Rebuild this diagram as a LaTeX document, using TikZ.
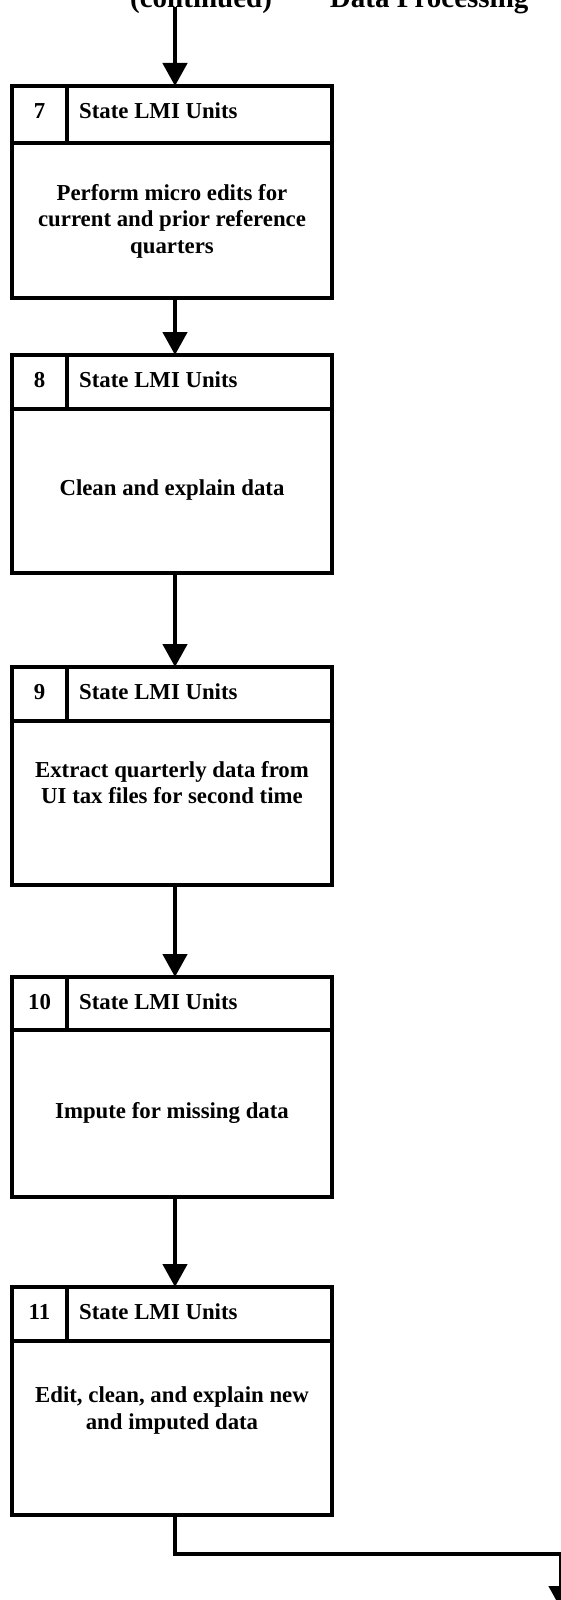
\documentclass[tikz,border=0pt]{standalone}
\usepackage{fontspec}
\setmainfont{Liberation Serif}
\usepackage{tikz}
\usetikzlibrary{arrows.meta,positioning}
\tikzstyle{stepbox} = [rectangle, draw, line width=3.8pt, minimum width=320pt,
    inner sep=0pt, outer sep=0pt]
\tikzstyle{line} = [draw, line width=4.5pt, -{Triangle[width=24pt,length=23pt]}]
\tikzstyle{divider} = [draw, line width=3.8pt]
\tikzstyle{task} = [align=center, anchor=base, inner sep=0pt]

\begin{document}
\begin{tikzpicture}[x=1pt, y=-1pt, node distance=57pt]
\tikzstyle{every node}=[font=\bfseries\fontsize{22.8}{26.5}\selectfont]
    \useasboundingbox (0,0) rectangle (561,1600);
    \clip (0,0) rectangle (561,1600);
    % title cut off at the top edge
    \node [anchor=base west, inner sep=0pt, font=\bfseries\fontsize{29}{34}\selectfont]
        (title) at (130,7.5) {(continued)\hspace{2em}Data Processing};
    % boxes
    \node [stepbox, minimum height=212pt] (s7) at (172,192) {};
    \node [stepbox, minimum height=218pt, below=57pt of s7] (s8) {};
    \node [stepbox, minimum height=218pt, below=94pt of s8] (s9) {};
    \node [stepbox, minimum height=220pt, below=92pt of s9] (s10) {};
    \node [stepbox, minimum height=228pt, below=90pt of s10] (s11) {};
    % header rows
    \foreach \s/\hd in {7/57,8/54,9/54,10/53,11/54} {
        \path [divider] ([yshift=-\hd pt]s\s.north west) -- ([yshift=-\hd pt]s\s.north east);
        \path [divider] ([xshift=55pt]s\s.north west) -- ([xshift=55pt,yshift=-\hd pt]s\s.north west);
        \node [anchor=base, inner sep=0pt] (num\s) at ([xshift=27.5pt,yshift=-32pt]s\s.north west) {\s};
        \node [anchor=base west, inner sep=0pt] (who\s) at ([xshift=67pt,yshift=-32pt]s\s.north west) {State LMI Units};
    }
    % tasks (base = last line)
    \node [task] (task7) at ([yshift=-167pt]s7.north) {Perform micro edits for\\current and prior reference\\quarters};
    \node [task] (task8) at ([yshift=-140pt]s8.north) {Clean and explain data};
    \node [task] (task9) at ([yshift=-136.5pt]s9.north) {Extract quarterly data from\\UI tax files for second time};
    \node [task] (task10) at ([yshift=-141pt]s10.north) {Impute for missing data};
    \node [task] (task11) at ([yshift=-142pt]s11.north) {Edit, clean, and explain new\\and imputed data};
    % connectors
    \coordinate (in) at (175,7);
    \coordinate (bend) at (561,1554);
    \coordinate (out) at (561,1609);
    \path [line] (in) -- ([xshift=3pt]s7.north);
    \path [line] ([xshift=3pt]s7.south) -- ([xshift=3pt]s8.north);
    \path [line] ([xshift=3pt]s8.south) -- ([xshift=3pt]s9.north);
    \path [line] ([xshift=3pt]s9.south) -- ([xshift=3pt]s10.north);
    \path [line] ([xshift=3pt]s10.south) -- ([xshift=3pt]s11.north);
    \path [line] ([xshift=3pt]s11.south) |- (bend) -- (out);
\end{tikzpicture}
\end{document}
